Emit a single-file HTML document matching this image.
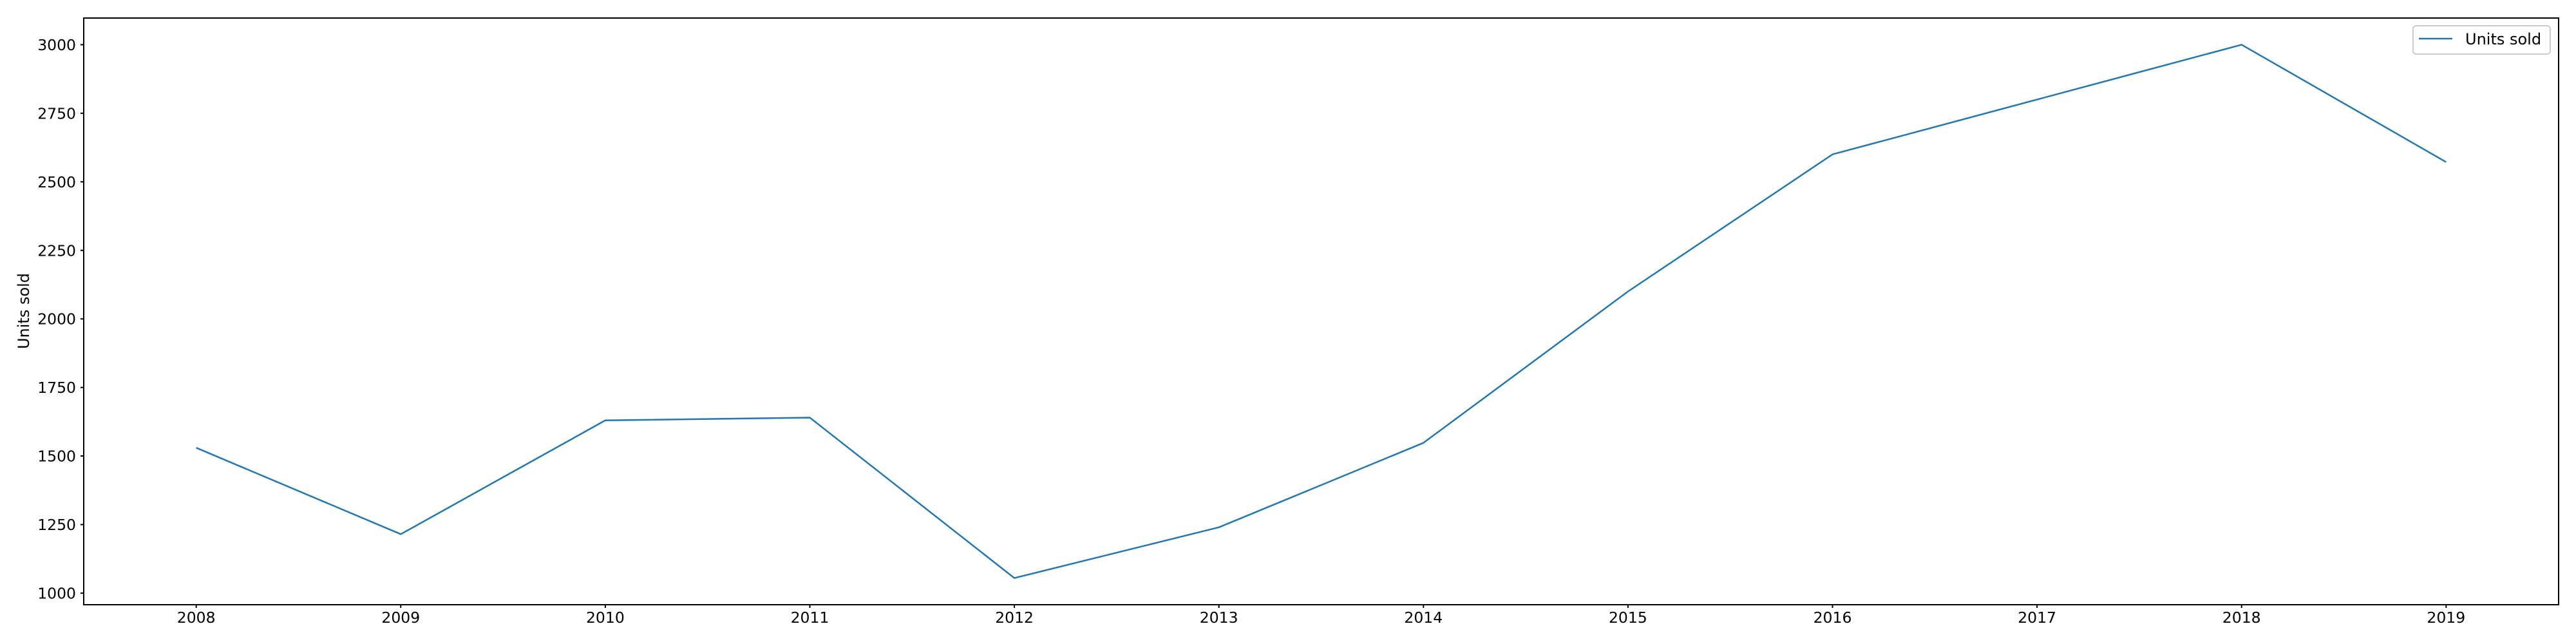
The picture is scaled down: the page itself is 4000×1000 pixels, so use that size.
<!DOCTYPE html>
<html><head><meta charset="utf-8"><style>
body{margin:0;background:#fff}
svg{display:block;font-family:"DejaVu Sans","Liberation Sans",sans-serif}
</style></head><body>
<svg id="chart" width="4000" height="1000" viewBox="0 0 4000 1000" xmlns="http://www.w3.org/2000/svg">
<rect x="0" y="0" width="4000" height="1000" fill="#fff"/>
<g id="grid"></g>
<rect x="130" y="28" width="3843" height="911" fill="none" stroke="#000" stroke-width="2"/>
<text x="0" y="0" font-size="24" text-anchor="middle" transform="translate(45 483) rotate(-90)">Units sold</text>
<g>
<rect x="3747" y="40" width="213" height="44" rx="5" fill="#fff" stroke="#ccc" stroke-width="2"/>
<line x1="3756" y1="60" x2="3808" y2="60" stroke="#1f77b4" stroke-width="2.5"/>
<text x="3828" y="69" font-size="24">Units sold</text>
</g>
</svg>
<script>
const years = [2008,2009,2010,2011,2012,2013,2014,2015,2016,2017,2018,2019];
const unitsSold = [1530,1215,1630,1640,1055,1240,1548,2100,2600,2800,3000,2572];
const yTicks = [1000,1250,1500,1750,2000,2250,2500,2750,3000];

const L=130,R=3973,T=28,B=939;
const xMin=years[0],xMax=years[years.length-1];
const xPad=(xMax-xMin)*0.05;
const yMinD=Math.min(...unitsSold),yMaxD=Math.max(...unitsSold);
const yPad=(yMaxD-yMinD)*0.05;
const y0=yMinD-yPad,y1=yMaxD+yPad;
function sx(v){return L+(v-(xMin-xPad))/((xMax+xPad)-(xMin-xPad))*(R-L);}
function sy(v){return B-(v-y0)/(y1-y0)*(B-T);}
const NS='http://www.w3.org/2000/svg';
const svg=document.getElementById('chart');
const g=document.getElementById('grid');
function mk(tag,attrs,parent){const e=document.createElementNS(NS,tag);for(const k in attrs)e.setAttribute(k,attrs[k]);(parent||g).appendChild(e);return e;}
yTicks.forEach(t=>{
  const y=sy(t);
  const tk=mk('line',{x1:L-5,x2:L,y1:y,y2:y,stroke:'#000','stroke-width':2});
  
  
  const tx=mk('text',{x:L-12,y:y+8.5,'font-size':23.5,'text-anchor':'end'});
  tx.textContent=t;
  
  
});
years.forEach(yr=>{
  const x=sx(yr);
  const tk=mk('line',{x1:x,x2:x,y1:B,y2:B+5,stroke:'#000','stroke-width':2});
  
  
  const tx=mk('text',{x:x,y:967,'font-size':23.5,'text-anchor':'middle'});
  tx.textContent=yr;
  
  
});
const pts=years.map((yr,i)=>sx(yr)+','+sy(unitsSold[i])).join(' ');
const line=mk('polyline',{points:pts,fill:'none',stroke:'#1f77b4','stroke-width':2.5,'stroke-linejoin':'round'},svg);


</script>
</body></html>
